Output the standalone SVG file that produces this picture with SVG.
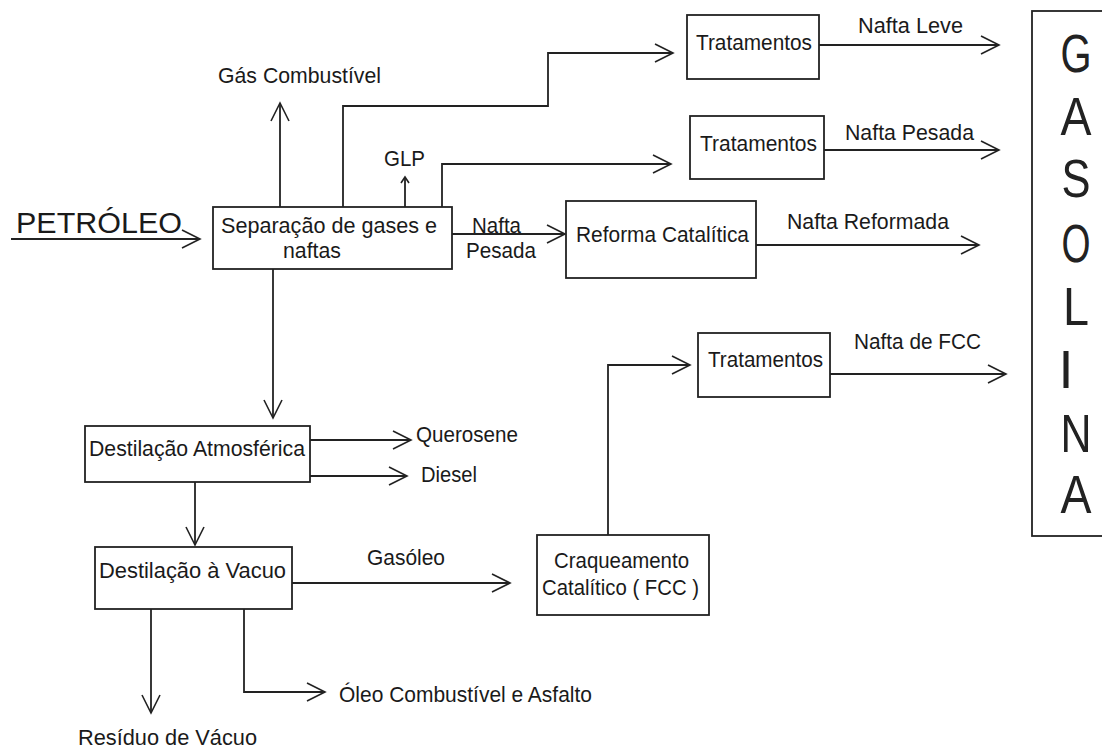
<svg xmlns="http://www.w3.org/2000/svg" width="1102" height="749" viewBox="0 0 1102 749">
<style>
.bg{fill:#fff}
.box{fill:#fff;stroke:#222;stroke-width:1.8}
.ln{fill:none;stroke:#222;stroke-width:1.8;marker-end:url(#a)}
.t{font-family:"Liberation Sans",Arial,sans-serif;font-size:22px;fill:#1a1a1a}
.big{font-family:"Liberation Sans",Arial,sans-serif;font-size:30px;fill:#1a1a1a}
.g{font-family:"Liberation Sans",Arial,sans-serif;font-size:54px;fill:#222;text-anchor:middle;font-weight:300}
</style>
<defs>
<marker id="a" markerWidth="22" markerHeight="22" refX="18" refY="9" orient="auto" markerUnits="userSpaceOnUse" overflow="visible">
<path d="M0,0 L18,9 L0,18" fill="none" stroke="#222" stroke-width="1.6"/>
</marker>
<marker id="s" markerWidth="10" markerHeight="10" refX="6" refY="4" orient="auto" markerUnits="userSpaceOnUse" overflow="visible">
<path d="M0,0 L6,4 L0,8" fill="none" stroke="#222" stroke-width="1.6"/>
</marker>
</defs>
<rect class="bg" x="0" y="0" width="1102" height="749"/>

<g id="connectors">
<path class="ln" d="M11,239 H200"/>
<path class="ln" d="M280,207 V103"/>
<path class="ln" d="M343,207 V106 H548 V53 H673"/>
<path class="ln" d="M819,45 H999"/>
<path d="M405,207 V177" fill="none" stroke="#222" stroke-width="1.8" marker-end="url(#s)"/>
<path class="ln" d="M442,207 V164 H671"/>
<path class="ln" d="M824,150 H999"/>
<path class="ln" d="M452,234 H565"/>
<path class="ln" d="M756,245 H979"/>
<path class="ln" d="M273,269 V418"/>
<path class="ln" d="M310,440 H411"/>
<path class="ln" d="M310,476 H407"/>
<path class="ln" d="M195,482 V545"/>
<path class="ln" d="M292,583 H510"/>
<path class="ln" d="M608,535 V365 H690"/>
<path class="ln" d="M830,374 H1006"/>
<path class="ln" d="M151,609 V713"/>
<path class="ln" d="M244,609 V692 H325"/>
</g>

<g id="labels">
<text class="big" x="16" y="233" textLength="166" lengthAdjust="spacingAndGlyphs">PETRÓLEO</text>
<text class="t" x="218" y="83" textLength="163" lengthAdjust="spacingAndGlyphs">Gás Combustível</text>
<text class="t" x="384" y="166" textLength="41" lengthAdjust="spacingAndGlyphs">GLP</text>
<text class="t" x="472" y="233" textLength="49" lengthAdjust="spacingAndGlyphs">Nafta</text>
<text class="t" x="466" y="258" textLength="70" lengthAdjust="spacingAndGlyphs">Pesada</text>
<text class="t" x="858" y="33" textLength="105" lengthAdjust="spacingAndGlyphs">Nafta Leve</text>
<text class="t" x="845" y="140" textLength="129" lengthAdjust="spacingAndGlyphs">Nafta Pesada</text>
<text class="t" x="787" y="229" textLength="162" lengthAdjust="spacingAndGlyphs">Nafta Reformada</text>
<text class="t" x="416" y="442" textLength="102" lengthAdjust="spacingAndGlyphs">Querosene</text>
<text class="t" x="421" y="482" textLength="56" lengthAdjust="spacingAndGlyphs">Diesel</text>
<text class="t" x="367" y="565" textLength="78" lengthAdjust="spacingAndGlyphs">Gasóleo</text>
<text class="t" x="854" y="349" textLength="127" lengthAdjust="spacingAndGlyphs">Nafta de FCC</text>
<text class="t" x="78" y="745" textLength="179" lengthAdjust="spacingAndGlyphs">Resíduo de Vácuo</text>
<text class="t" x="339" y="702" textLength="253" lengthAdjust="spacingAndGlyphs">Óleo Combustível e Asfalto</text>
</g>

<g id="separacao">
<rect class="box" x="213" y="207" width="239" height="62"/>
<text class="t" x="221" y="233" textLength="216" lengthAdjust="spacingAndGlyphs">Separação de gases e</text>
<text class="t" x="283" y="258" textLength="58" lengthAdjust="spacingAndGlyphs">naftas</text>
</g>
<g id="tratamentos1">
<rect class="box" x="687" y="15" width="132" height="64"/>
<text class="t" x="696" y="50" textLength="116" lengthAdjust="spacingAndGlyphs">Tratamentos</text>
</g>
<g id="tratamentos2">
<rect class="box" x="690" y="116" width="134" height="63"/>
<text class="t" x="700" y="151" textLength="117" lengthAdjust="spacingAndGlyphs">Tratamentos</text>
</g>
<g id="reforma">
<rect class="box" x="566" y="201" width="190" height="77"/>
<text class="t" x="576" y="242" textLength="173" lengthAdjust="spacingAndGlyphs">Reforma Catalítica</text>
</g>
<g id="atmosferica">
<rect class="box" x="85" y="426" width="225" height="56"/>
<text class="t" x="89" y="456" textLength="216" lengthAdjust="spacingAndGlyphs">Destilação Atmosférica</text>
</g>
<g id="vacuo">
<rect class="box" x="95" y="547" width="197" height="62"/>
<text class="t" x="99" y="578" textLength="187" lengthAdjust="spacingAndGlyphs">Destilação à Vacuo</text>
</g>
<g id="fcc">
<rect class="box" x="537" y="535" width="172" height="80"/>
<text class="t" x="554" y="568" textLength="135" lengthAdjust="spacingAndGlyphs">Craqueamento</text>
<text class="t" x="542" y="595" textLength="157" lengthAdjust="spacingAndGlyphs">Catalítico ( FCC )</text>
</g>
<g id="tratamentos3">
<rect class="box" x="698" y="333" width="132" height="64"/>
<text class="t" x="708" y="367" textLength="115" lengthAdjust="spacingAndGlyphs">Tratamentos</text>
</g>
<g id="gasolina">
<rect class="box" x="1032" y="11" width="80" height="525"/>
<text class="g" x="1076" y="72" textLength="31" lengthAdjust="spacingAndGlyphs">G</text>
<text class="g" x="1076" y="135" textLength="31" lengthAdjust="spacingAndGlyphs">A</text>
<text class="g" x="1076" y="197" textLength="29" lengthAdjust="spacingAndGlyphs">S</text>
<text class="g" x="1076" y="262" textLength="29" lengthAdjust="spacingAndGlyphs">O</text>
<text class="g" x="1076" y="325" textLength="26" lengthAdjust="spacingAndGlyphs">L</text>
<text class="g" x="1066" y="388">I</text>
<text class="g" x="1076" y="452" textLength="31" lengthAdjust="spacingAndGlyphs">N</text>
<text class="g" x="1076" y="513" textLength="31" lengthAdjust="spacingAndGlyphs">A</text>
</g>
</svg>
